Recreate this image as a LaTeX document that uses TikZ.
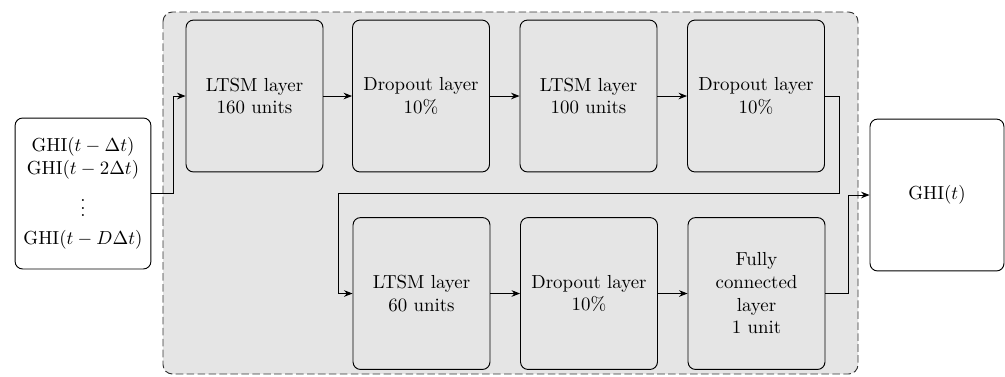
\documentclass[tikz,border=0pt]{standalone}
\usetikzlibrary{arrows.meta}
\begin{document}
\begin{tikzpicture}[x=0.53pt,y=-0.53pt,
  box/.style={draw=black, line width=0.5pt, rounded corners=4pt, fill=black!10,
    minimum width=72.6pt, minimum height=80.5pt, align=center, inner sep=1pt},
  iobox/.style={box, fill=white},
  arr/.style={draw=black, line width=0.5pt, -{Stealth[length=4.5pt,width=3.5pt]}},
  bgbox/.style={draw=black!80, line width=0.5pt, dash pattern=on 4pt off 1.8pt, rounded corners=5pt, fill=black!10}]
\useasboundingbox (0,0) rectangle (1005,376);
\path[bgbox] (163,12) rectangle (858,374);
\node[iobox, minimum width=72pt, minimum height=80pt] (in) at (83,193.5)
  {GHI$(t-\Delta t)$\\GHI$(t-2\Delta t)$\\[4pt]$\vdots$\\[3pt]GHI$(t-D\Delta t)$};
\node[box] (b1) at (254.5,96) {LTSM layer\\160 units};
\node[box] (b2) at (421,96) {Dropout layer\\10\%};
\node[box] (b3) at (588.5,96) {LTSM layer\\100 units};
\node[box] (b4) at (756,96) {Dropout layer\\10\%};
\node[box] (c1) at (421.5,293.5) {LTSM layer\\60 units};
\node[box] (c2) at (589,293.5) {Dropout layer\\10\%};
\node[box] (c3) at (756.5,293.5) {Fully\\connected\\layer\\1 unit};
\node[iobox, minimum width=71pt] (out) at (937,195) {GHI$(t)$};
\coordinate (m1) at (338,193);
\draw[arr] (in.east) -- ++(22,0) |- (b1.west);
\draw[arr] (b1) -- (b2);
\draw[arr] (b2) -- (b3);
\draw[arr] (b3) -- (b4);
\draw[arr] (b4.east) -- ++(15,0) |- (m1) |- (c1.west);
\draw[arr] (c1) -- (c2);
\draw[arr] (c2) -- (c3);
\draw[arr] (c3.east) -- ++(23,0) |- (out.west);
\end{tikzpicture}
\end{document}
